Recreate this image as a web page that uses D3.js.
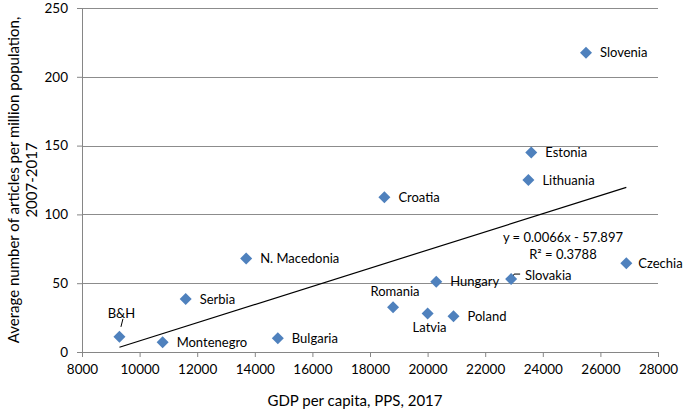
<!DOCTYPE html>
<html lang="en">
  <head>
    <meta charset="utf-8" />
    <title>Articles per million population vs GDP per capita</title>
    <script src="https://cdn.jsdelivr.net/npm/d3@7"></script>
    <style>
      body {
        margin: 0;
        background: #fff;
      }
      text {
        font-family: Lato, "Open Sans", sans-serif;
        fill: #000;
      }
      .axis text {
        font-size: 13.5px;
      }
      .axis path,
      .axis line {
        stroke: #868686;
      }
      .grid line {
        stroke: #8c8c8c;
      }
      .label {
        font-size: 13px;
      }
    </style>
  </head>

  <body>
    <svg id="chart"></svg>

    <script>
      // data
      const countries = ["B&H", "Montenegro", "Serbia", "N. Macedonia", "Bulgaria", "Croatia", "Romania",
        "Latvia", "Hungary", "Poland", "Slovakia", "Lithuania", "Estonia", "Slovenia", "Czechia"];
      const gdp = [9300, 10800, 11600, 13700, 14800, 18500, 18800, 20000, 20300, 20900, 22900, 23500, 23600, 25500, 26900];
      const articles = [11, 7, 38.5, 68, 10, 112.5, 32.5, 28, 51, 26, 53, 125, 145, 217.5, 64.5];

      const xTicks = [8000, 10000, 12000, 14000, 16000, 18000, 20000, 22000, 24000, 26000, 28000];
      const yTicks = [0, 50, 100, 150, 200, 250];

      const slope = 0.0066;
      const intercept = -57.897;
      const equation = "y = 0.0066x - 57.897";
      const rSquared = "R² = 0.3788";

      // where each label sits relative to its marker
      const labelPlace = {
        "B&H": "above",
        Romania: "above",
        Latvia: "below"
      };

      const width = 685;
      const height = 412;
      const margin = { top: 8, right: 27, bottom: 60, left: 82 };
      const innerW = width - margin.left - margin.right;
      const innerH = height - margin.top - margin.bottom;

      const svg = d3.select("#chart").attr("width", width).attr("height", height);
      const g = svg.append("g").attr("transform", `translate(${margin.left},${margin.top})`);

      const x = d3.scaleLinear().domain([8000, 28000]).range([0, innerW]);
      const y = d3.scaleLinear().domain([0, 250]).range([innerH, 0]);

      // gridlines
      g.append("g")
        .attr("class", "grid")
        .selectAll("line")
        .data(yTicks.filter(d => d > 0))
        .join("line")
        .attr("x1", 0)
        .attr("x2", innerW)
        .attr("y1", d => Math.round(y(d)) + 0.5)
        .attr("y2", d => Math.round(y(d)) + 0.5);

      // axes
      const gx = g.append("g")
        .attr("class", "axis")
        .attr("transform", `translate(0,${innerH})`)
        .call(d3.axisBottom(x).tickValues(xTicks).tickFormat(d3.format("d")).tickSize(5).tickSizeOuter(0).tickPadding(6));
      gx.selectAll("text").attr("dy", "0.8em");

      g.append("g")
        .attr("class", "axis")
        .call(d3.axisLeft(y).tickValues(yTicks).tickSize(5).tickSizeOuter(0).tickPadding(9));

      // trendline over the data range
      const [x0, x1] = d3.extent(gdp);
      g.append("line")
        .attr("x1", x(x0))
        .attr("y1", y(slope * x0 + intercept))
        .attr("x2", x(x1))
        .attr("y2", y(slope * x1 + intercept))
        .attr("stroke", "#000")
        .attr("stroke-width", 1.2);

      const eqX = x(24700);
      const eqY = y(slope * 24700 + intercept);
      g.append("text").attr("class", "label").attr("x", eqX).attr("y", eqY + 35)
        .attr("text-anchor", "middle").text(equation);
      g.append("text").attr("class", "label").attr("x", eqX).attr("y", eqY + 52)
        .attr("text-anchor", "middle").text(rSquared);

      const points = countries.map((c, i) => ({ name: c, gdp: gdp[i], val: articles[i] }));

      // leader lines
      const bh = points.find(d => d.name === "B&H");
      g.append("line")
        .attr("x1", x(bh.gdp) + 1.5).attr("y1", y(bh.val) - 10)
        .attr("x2", x(bh.gdp) + 3.5).attr("y2", y(bh.val) - 18)
        .attr("stroke", "#000");
      const sk = points.find(d => d.name === "Slovakia");
      g.append("path")
        .attr("d", `M${x(sk.gdp) + 1},${y(sk.val) - 1}L${x(sk.gdp) + 3},${y(sk.val) - 5}H${x(sk.gdp) + 9}`)
        .attr("fill", "none")
        .attr("stroke", "#000");

      // markers
      const diamond = d3.symbol(d3.symbolSquare, 72);
      g.selectAll("path.pt")
        .data(points)
        .join("path")
        .attr("class", "pt")
        .attr("d", diamond)
        .attr("transform", d => `translate(${x(d.gdp)},${y(d.val)}) rotate(45)`)
        .attr("fill", "#4f81bd");

      // labels
      g.selectAll("text.pl")
        .data(points)
        .join("text")
        .attr("class", "label pl")
        .attr("x", d => (labelPlace[d.name] ? x(d.gdp) + 2 : x(d.gdp) + (d.name === "Czechia" ? 12 : 14)))
        .attr("y", d => {
          const p = labelPlace[d.name];
          if (p === "above") return y(d.val) - (d.name === "B&H" ? 23 : 16);
          if (p === "below") return y(d.val) + 14;
          if (d.name === "Slovakia") return y(d.val) - 4;
          return y(d.val);
        })
        .attr("dy", "0.35em")
        .attr("text-anchor", d => (labelPlace[d.name] ? "middle" : "start"))
        .text(d => d.name);

      // axis titles
      svg.append("text")
        .attr("x", margin.left + innerW / 2 - 15)
        .attr("y", 406)
        .attr("text-anchor", "middle")
        .style("font-size", "15px")
        .text("GDP per capita, PPS, 2017");

      const yt = svg.append("text")
        .attr("transform", `translate(19,${margin.top + innerH / 2}) rotate(-90)`)
        .attr("text-anchor", "middle")
        .style("font-size", "15px");
      yt.append("tspan").attr("x", 0).attr("dy", 0).text("Average number of articles per million population,");
      yt.append("tspan").attr("x", 0).attr("dy", "1.2em").text("2007-2017");
    </script>
  </body>
</html>
